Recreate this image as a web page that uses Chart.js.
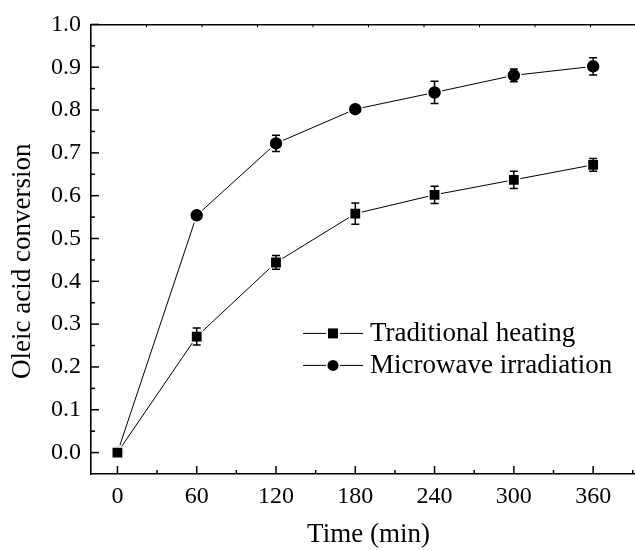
<!DOCTYPE html>
<html>
<head>
<meta charset="utf-8">
<script src="https://cdn.jsdelivr.net/npm/chart.js@4"></script>
<style>
  html, body { margin: 0; padding: 0; background: #fff; overflow: hidden; }
  #wrap { width: 660px; height: 550px; }
</style>
</head>
<body>
<div id="wrap"><canvas id="grafico"></canvas></div>
<script>
// dados
const times = [0, 60, 120, 180, 240, 300, 360]
const traditional = [0, 0.271, 0.444, 0.558, 0.602, 0.637, 0.672]
const traditionalErr = [0, 0.02, 0.016, 0.025, 0.02, 0.02, 0.015]
const microwave = [0, 0.554, 0.722, 0.802, 0.841, 0.881, 0.902]
const microwaveErr = [0, 0.004, 0.019, 0.005, 0.026, 0.015, 0.02]

const xTicks = [0, 60, 120, 180, 240, 300, 360]
const xMinor = [30, 90, 150, 210, 270, 330, 390]
const yTicks = [0, 0.1, 0.2, 0.3, 0.4, 0.5, 0.6, 0.7, 0.8, 0.9, 1.0]
const yMinor = [0.05, 0.15, 0.25, 0.35, 0.45, 0.55, 0.65, 0.75, 0.85, 0.95]
const topTicks = [1, 2, 3, 4, 5, 6, 7, 8, 9]

const fonte = '"Liberation Serif", "Times New Roman", serif'

function pontos(ys) {
    return times.map((t, i) => ({ x: t, y: ys[i] }))
}

// barras de erro
const errorBars = {
    id: 'errorBars',
    afterDatasetsDraw(chart) {
        const { ctx, scales } = chart
        ctx.save()
        ctx.strokeStyle = '#000'
        ctx.lineWidth = 1.5
        chart.data.datasets.forEach((ds) => {
            ds.data.forEach((p, i) => {
                const e = ds.errors[i]
                if (!e) return
                const x = scales.x.getPixelForValue(p.x)
                const y1 = scales.y.getPixelForValue(p.y - e)
                const y2 = scales.y.getPixelForValue(p.y + e)
                ctx.beginPath()
                ctx.moveTo(x, y1); ctx.lineTo(x, y2)
                ctx.moveTo(x - 4, y1); ctx.lineTo(x + 4, y1)
                ctx.moveTo(x - 4, y2); ctx.lineTo(x + 4, y2)
                ctx.stroke()
            })
        })
        ctx.restore()
    }
}

// marcas dos eixos, para dentro
const tickMarks = {
    id: 'tickMarks',
    afterDraw(chart) {
        const { ctx, chartArea: a, scales } = chart
        ctx.save()
        ctx.strokeStyle = '#000'
        ctx.lineWidth = 1.5
        const linha = (x1, y1, x2, y2) => {
            ctx.beginPath(); ctx.moveTo(x1, y1); ctx.lineTo(x2, y2); ctx.stroke()
        }
        xTicks.forEach(v => { const px = scales.x.getPixelForValue(v); linha(px, a.bottom, px, a.bottom - 8) })
        xMinor.forEach(v => { const px = scales.x.getPixelForValue(v); linha(px, a.bottom, px, a.bottom - 4) })
        yTicks.forEach(v => { const py = scales.y.getPixelForValue(v); linha(a.left, py, a.left + 8, py) })
        yMinor.forEach(v => { const py = scales.y.getPixelForValue(v); linha(a.left, py, a.left + 4, py) })
        ctx.lineWidth = 1
        topTicks.forEach(v => { const px = scales.x2.getPixelForValue(v); linha(px, a.top, px, a.top + 3) })

        // título do eixo y, um pouco abaixo do centro como no original
        ctx.font = '27px ' + fonte
        ctx.fillStyle = '#000'
        ctx.textAlign = 'center'
        ctx.textBaseline = 'middle'
        ctx.translate(23, (a.top + a.bottom) / 2 + 12)
        ctx.rotate(-Math.PI / 2)
        ctx.fillText('Oleic acid conversion', 0, 0)
        ctx.restore()
    }
}

// legenda desenhada à mão
const legenda = {
    id: 'legenda',
    afterDraw(chart) {
        const { ctx, chartArea: a } = chart
        ctx.save()
        ctx.font = '27px ' + fonte
        ctx.textBaseline = 'middle'
        ctx.fillStyle = '#000'
        ctx.strokeStyle = '#000'
        ctx.lineWidth = 1
        const x0 = a.left + 212
        chart.data.datasets.forEach((ds, i) => {
            const y = a.top + 309 + i * 32
            ctx.beginPath(); ctx.moveTo(x0, y); ctx.lineTo(x0 + 60, y); ctx.stroke()
            ctx.beginPath()
            if (ds.pointStyle === 'rect') {
                ctx.fillStyle = '#fff'; ctx.fillRect(x0 + 23, y - 7, 14, 14)
                ctx.fillStyle = '#000'; ctx.fillRect(x0 + 25, y - 5, 10, 10)
            } else {
                ctx.fillStyle = '#fff'; ctx.arc(x0 + 30, y, 7, 0, Math.PI * 2); ctx.fill()
                ctx.beginPath(); ctx.fillStyle = '#000'; ctx.arc(x0 + 30, y, 5.5, 0, Math.PI * 2); ctx.fill()
            }
            ctx.fillText(ds.label, x0 + 67, y + 1)
        })
        ctx.restore()
    }
}

new Chart(document.getElementById('grafico'), {
    type: 'line',
    data: {
        datasets: [{
            label: 'Traditional heating',
            data: pontos(traditional),
            errors: traditionalErr,
            borderColor: '#000',
            borderWidth: 1,
            backgroundColor: '#000',
            pointStyle: 'rect',
            pointRadius: 8,
            pointBorderColor: '#fff',
            pointBorderWidth: 1.5,
            tension: 0
        }, {
            label: 'Microwave irradiation',
            data: pontos(microwave),
            errors: microwaveErr,
            borderColor: '#000',
            borderWidth: 1,
            backgroundColor: '#000',
            pointStyle: 'circle',
            pointRadius: 7,
            pointBorderColor: '#fff',
            pointBorderWidth: 1.5,
            tension: 0
        }]
    },
    plugins: [errorBars, tickMarks, legenda],
    options: {
        responsive: true,
        maintainAspectRatio: false,
        animation: false,
        layout: { padding: { top: 24, right: 14, left: 0, bottom: 0 } },
        plugins: { legend: { display: false }, tooltip: { enabled: false } },
        scales: {
            x: {
                type: 'linear',
                min: -20,
                max: 400,
                afterBuildTicks: (s) => { s.ticks = xTicks.map(v => ({ value: v })) },
                afterFit: (s) => { s.height = 76 },
                grid: { display: false, drawTicks: false },
                border: { display: true, color: '#000', width: 1.6 },
                ticks: { color: '#000', font: { family: fonte, size: 24 }, padding: 8, maxRotation: 0 },
                title: { display: true, text: 'Time (min)', color: '#000', font: { family: fonte, size: 27 }, padding: { top: 0, bottom: -1 } }
            },
            x2: {
                type: 'linear',
                position: 'top',
                min: 0,
                max: 10,
                afterFit: (s) => { s.height = 0 },
                grid: { display: false, drawTicks: false },
                border: { display: true, color: '#000', width: 1.6 },
                ticks: { display: false }
            },
            y: {
                min: -0.05,
                max: 1.0,
                afterBuildTicks: (s) => { s.ticks = yTicks.map(v => ({ value: v })) },
                afterFit: (s) => { s.width = 91 },
                grid: { display: false, drawTicks: false },
                border: { display: true, color: '#000', width: 1.6 },
                ticks: { color: '#000', font: { family: fonte, size: 24 }, padding: 10, callback: (v) => v.toFixed(1) }
            }
        }
    }
})
</script>
</body>
</html>
